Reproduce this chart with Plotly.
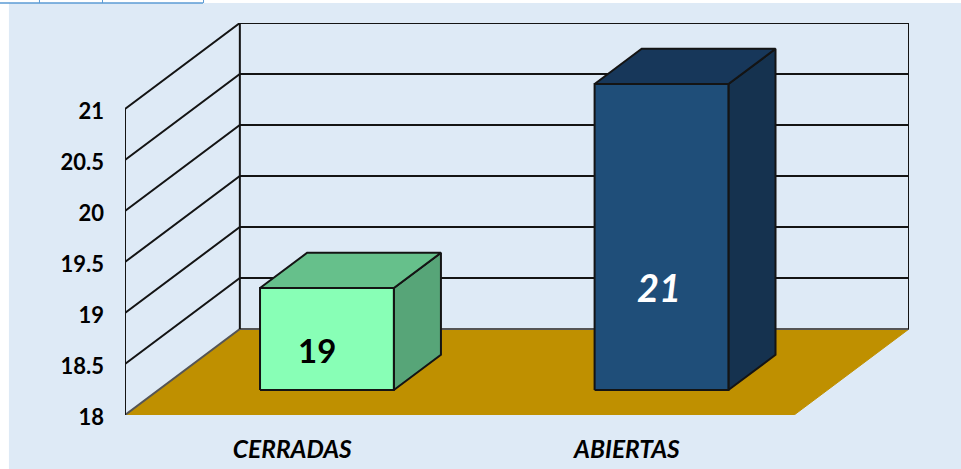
import plotly.graph_objects as go

categories = ["CERRADAS", "ABIERTAS"]
values = [19, 21]
tick_values = [18, 18.5, 19, 19.5, 20, 20.5, 21]
tick_labels = ["18", "18.5", "19", "19.5", "20", "20.5", "21"]
front_colors = ["#88FFB6", "#1F4E79"]
top_colors = ["#66C08B", "#17375A"]
side_colors = ["#57A578", "#15324F"]
label_colors = ["#000000", "#FFFFFF"]
label_italic = [False, True]
label_sizes = [33, 38]
label_x = [0.573, 1.597]
label_y = [18.64, 19.255]

BASE = 18
DX, DY = 115 / 335, 86 / 102
BAR_LEFT, BAR_W = 0.304, 0.4
D0, D1 = 0.29, 0.70
FLOOR = "#BF9000"
PANEL = "#DEEAF6"
LINE = "#141414"
FONT = "Lato"


def proj(x, d, y):
    return x + d * DX, y + d * DY


def poly(pts, fill=None, color=LINE, width=2):
    xs, ys = zip(*pts)
    return go.Scatter(
        x=list(xs), y=list(ys), mode="lines",
        fill="toself" if fill else None, fillcolor=fill,
        line=dict(color=color, width=width), hoverinfo="skip", showlegend=False,
        cliponaxis=False,
    )


n = len(categories)
fig = go.Figure()

# floor
fig.add_trace(poly([proj(0, 0, BASE), proj(n, 0, BASE), proj(n, 1, BASE), proj(0, 1, BASE)],
                   fill=FLOOR, color=FLOOR, width=1))

# grid on back wall and left wall
wall_top = tick_values[-1]
for v in tick_values:
    col = "#555555" if v == BASE else LINE
    fig.add_trace(poly([proj(0, 0, v), proj(0, 1, v), proj(n, 1, v)], color=col, width=2))
fig.add_trace(poly([proj(0, 0, BASE), proj(0, 0, wall_top)]))
fig.add_trace(poly([proj(0, 1, BASE), proj(0, 1, wall_top)]))
fig.add_trace(poly([proj(n, 1, BASE), proj(n, 1, wall_top)]))

# bars
for i, v in enumerate(values):
    x0 = i + BAR_LEFT
    x1 = x0 + BAR_W
    fig.add_trace(poly([proj(x1, D0, BASE), proj(x1, D1, BASE), proj(x1, D1, v), proj(x1, D0, v),
                        proj(x1, D0, BASE)], fill=side_colors[i]))
    fig.add_trace(poly([proj(x0, D0, v), proj(x1, D0, v), proj(x1, D1, v), proj(x0, D1, v),
                        proj(x0, D0, v)], fill=top_colors[i]))
    fig.add_trace(poly([proj(x0, D0, BASE), proj(x1, D0, BASE), proj(x1, D0, v), proj(x0, D0, v),
                        proj(x0, D0, BASE)], fill=front_colors[i]))
    fig.add_annotation(
        x=label_x[i], y=label_y[i], text=f"<i>{v}</i>" if label_italic[i] else str(v),
        showarrow=False, xref="x", yref="y",
        font=dict(family=FONT, size=label_sizes[i], color=label_colors[i], weight="bold"),
    )

W, H = 961, 469
L, R, T, B = 125, 908.6, 23, 415
xmax = n + DX
ymax = BASE + (B - T) / 102

fig.update_layout(
    width=W, height=H, autosize=False,
    margin=dict(l=L, r=W - R, t=T, b=H - B, pad=0, autoexpand=False),
    paper_bgcolor="#FFFFFF", plot_bgcolor="rgba(0,0,0,0)",
    showlegend=False,
    xaxis=dict(
        range=[0, xmax], showgrid=False, zeroline=False, showline=False, automargin=False,
        tickmode="array", tickvals=[i + 0.5 for i in range(n)],
        ticktext=[f"<i>{c}</i>" for c in categories],
        ticks="", ticklabelstandoff=17,
        tickfont=dict(family=FONT, size=24.5, color="#000000", weight="bold"),
        fixedrange=True,
    ),
    yaxis=dict(
        range=[BASE, ymax], showgrid=False, zeroline=False, showline=False, automargin=False,
        tickmode="array", tickvals=tick_values, ticktext=tick_labels,
        ticks="", ticklabelstandoff=20, ticklabelshift=2,
        tickfont=dict(family=FONT, size=22, color="#000000", weight="bold"),
        fixedrange=True,
    ),
    shapes=[
        dict(type="rect", xref="paper", yref="paper", layer="below",
             x0=(9 - L) / (R - L), x1=(W + 5 - L) / (R - L),
             y0=(B - H - 5) / (B - T), y1=(B - 3) / (B - T),
             fillcolor=PANEL, line=dict(width=0)),
        dict(type="line", xref="paper", yref="paper", layer="below",
             x0=(-5 - L) / (R - L), x1=(203 - L) / (R - L),
             y0=(B - 3) / (B - T), y1=(B - 3) / (B - T),
             line=dict(color="#5B9BD5", width=1.5)),
    ] + [
        dict(type="line", xref="paper", yref="paper", layer="below",
             x0=(px - L) / (R - L), x1=(px - L) / (R - L),
             y0=(B - 3) / (B - T), y1=(B + 5) / (B - T),
             line=dict(color="#5B9BD5", width=1))
        for px in (39.5, 102.5, 203.5)
    ],
)

post = """
document.documentElement.style.margin = '0';
document.documentElement.style.overflow = 'hidden';
document.body.style.margin = '0';
document.body.style.overflow = 'hidden';
Plotly.relayout(document.getElementById('{plot_id}'), {width: 961, height: 469});
"""
fig.write_html("out.html", config={"displayModeBar": False}, post_script=post)
